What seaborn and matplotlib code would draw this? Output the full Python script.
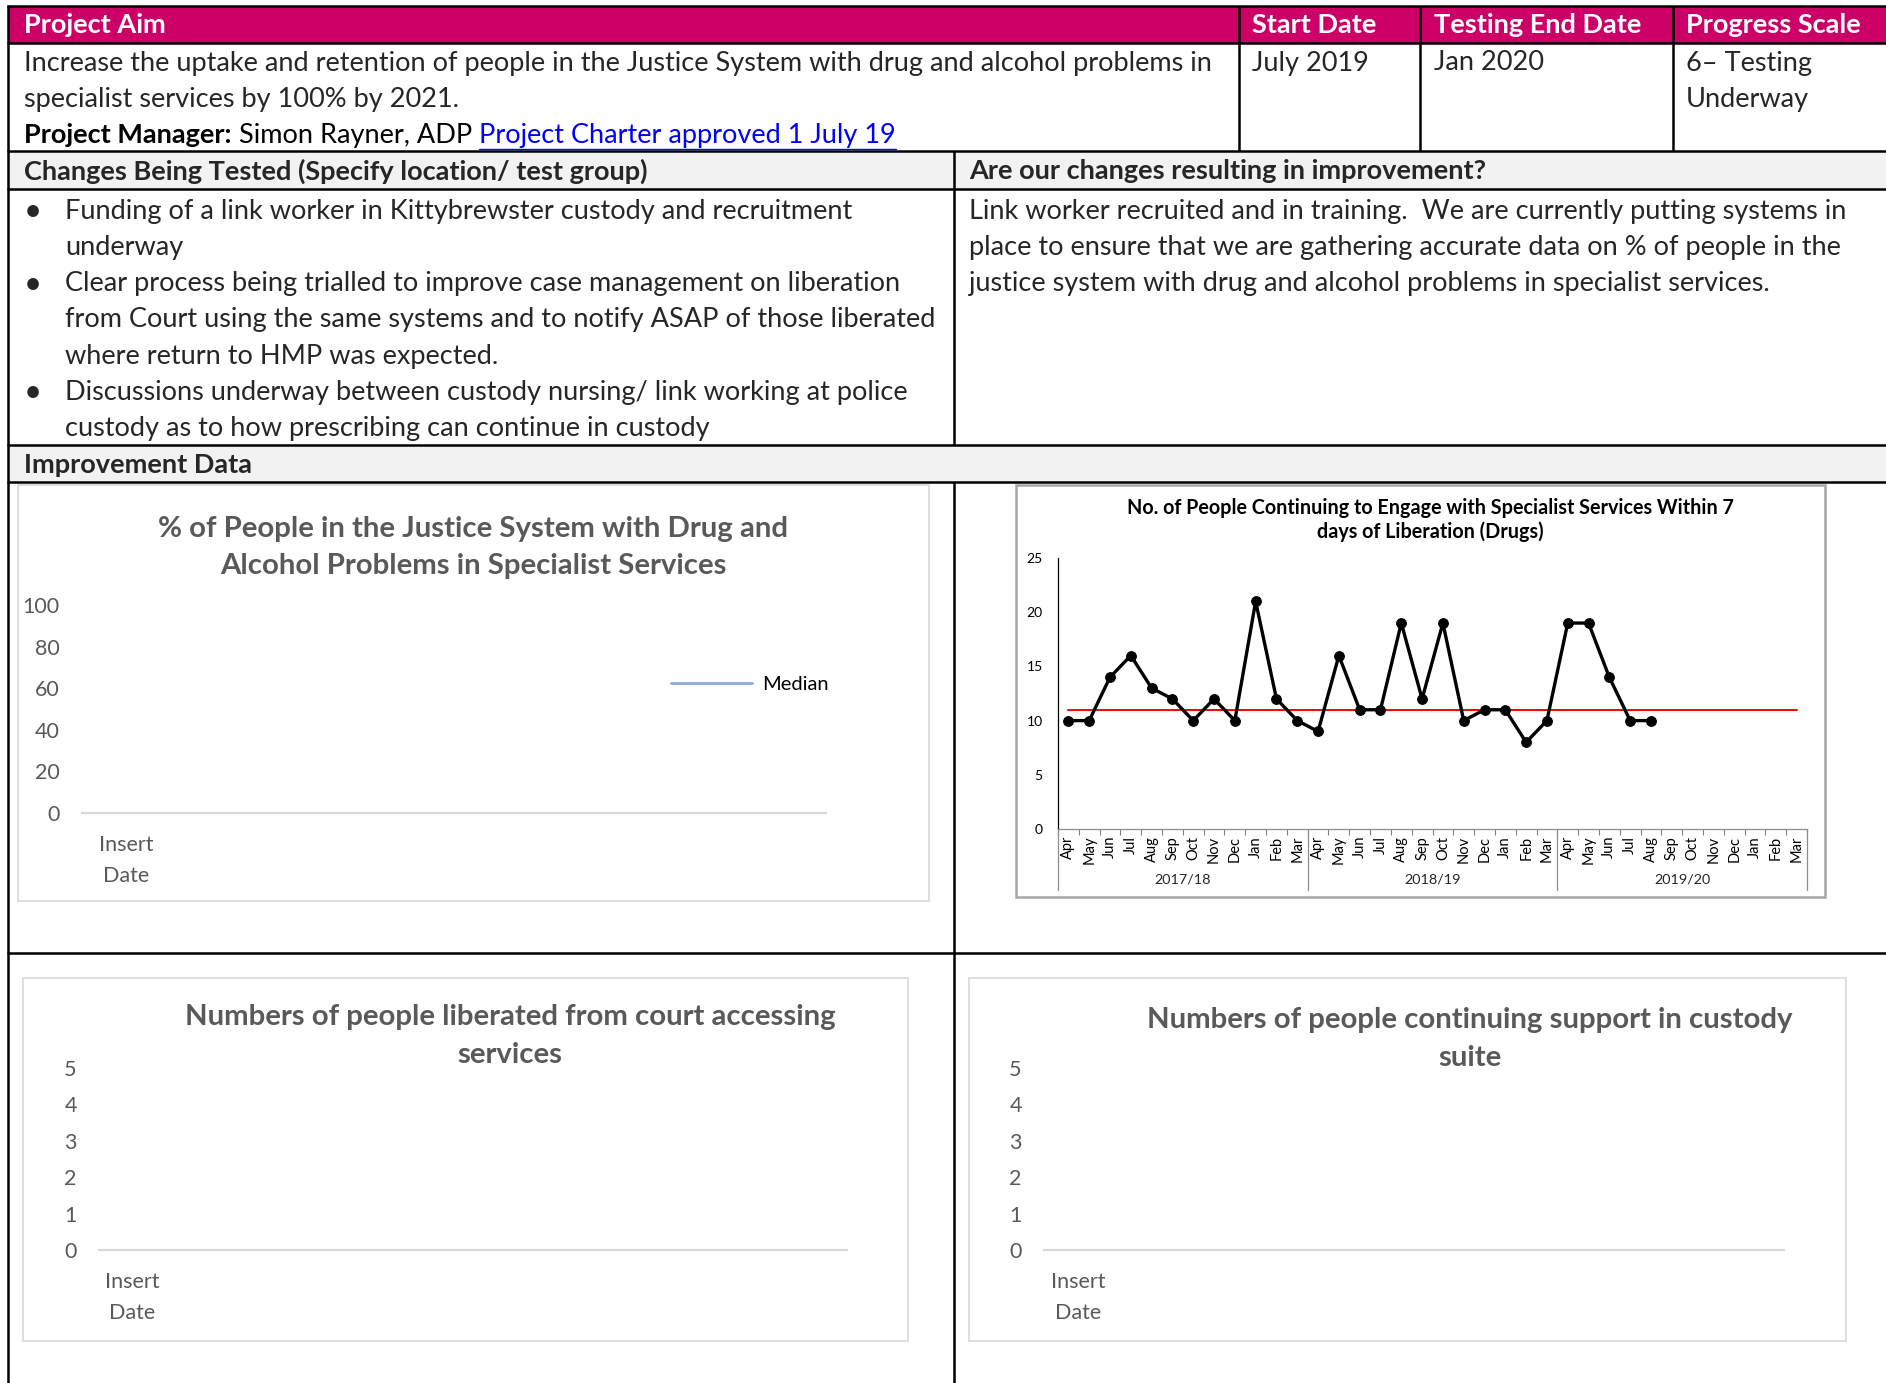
import numpy as np
import pandas as pd
import seaborn as sns
import matplotlib.pyplot as plt
import matplotlib.transforms as mtransforms
from matplotlib.patches import Rectangle

W, H = 1886, 1383

# ---- table text ----
header_labels = ['Project Aim', 'Start Date', 'Testing End Date', 'Progress Scale']
aim_lines = ['Increase the uptake and retention of people in the Justice System with drug and alcohol problems in',
             'specialist services by 100% by 2021.']
start_date = 'July 2019'
end_date = 'Jan 2020'
progress_lines = ['6\u2013 Testing', 'Underway']
manager_label = 'Project Manager:'
manager_name = ' Simon Rayner, ADP '
charter_link = 'Project Charter approved 1 July 19'
changes_header = 'Changes Being Tested (Specify location/ test group)'
changes_bullets = [
    ['Funding of a link worker in Kittybrewster custody and recruitment', 'underway'],
    ['Clear process being trialled to improve case management on liberation',
     'from Court using the same systems and to notify ASAP of those liberated',
     'where return to HMP was expected.'],
    ['Discussions underway between custody nursing/ link working at police',
     'custody as to how prescribing can continue in custody'],
]
improve_header = 'Are our changes resulting in improvement?'
improve_lines = ['Link worker recruited and in training.  We are currently putting systems in',
                 'place to ensure that we are gathering accurate data on % of people in the',
                 'justice system with drug and alcohol problems in specialist services.']
data_header = 'Improvement Data'

# ---- chart data ----
months = ['Apr', 'May', 'Jun', 'Jul', 'Aug', 'Sep', 'Oct', 'Nov', 'Dec', 'Jan', 'Feb', 'Mar']
years = ['2017/18', '2018/19', '2019/20']
engage_values = [10, 10, 14, 16, 13, 12, 10, 12, 10, 21, 12, 10,
                 9, 16, 11, 11, 19, 12, 19, 10, 11, 11, 8, 10,
                 19, 19, 14, 10, 10]
median_value = 11
engage_title = 'No. of People Continuing to Engage with Specialist Services Within 7\ndays of Liberation (Drugs)'

empty_categories = ['Insert\nDate']
empty_values = [np.nan]
pct_title = '% of People in the Justice System with Drug and\nAlcohol Problems in Specialist Services'
pct_ticks = [0, 20, 40, 60, 80, 100]
court_title = 'Numbers of people liberated from court accessing\nservices'
custody_title = 'Numbers of people continuing support in custody\nsuite'
count_ticks = [0, 1, 2, 3, 4, 5]

sns.set_theme(style='white')
plt.rcParams['font.family'] = ['Lato', 'DejaVu Sans']

fig = plt.figure(figsize=(W / 100, H / 100), dpi=100)
fig.patch.set_facecolor('white')

page = fig.add_axes([0, 0, 1, 1])
page.set_xlim(0, W)
page.set_ylim(H, 0)
page.axis('off')
page.set_zorder(0)

PINK = '#CC0066'
GREY_ROW = '#F2F2F2'
BODY = 19.5
LINE = 36.3

# row fills
page.add_patch(Rectangle((8, 6), W - 8, 37, fc=PINK, ec='none'))
page.add_patch(Rectangle((8, 151), W - 8, 38, fc=GREY_ROW, ec='none'))
page.add_patch(Rectangle((8, 445), W - 8, 37, fc=GREY_ROW, ec='none'))

# table rules
lk = dict(color='black', lw=1.8, solid_capstyle='butt')
for y in [6, 43, 151, 189, 445, 482, 953]:
    page.plot([7, W], [y, y], **lk)
page.plot([8, 8], [5, H], **lk)
for x in [1239, 1420, 1673]:
    page.plot([x, x], [6, 151], **lk)
page.plot([954, 954], [151, 445], **lk)
page.plot([954, 954], [482, H], **lk)

# header row
for lbl, x in zip(header_labels, [24, 1252, 1434, 1686]):
    page.text(x, 25, lbl, color='white', fontsize=BODY, fontweight='bold', va='center')

for i, line in enumerate(aim_lines):
    page.text(24, 63 + LINE * i, line, fontsize=BODY, va='center')
page.text(1252, 63, start_date, fontsize=BODY, va='center')
page.text(1434, 63, end_date, fontsize=BODY, va='center')
for i, line in enumerate(progress_lines):
    page.text(1686, 63 + LINE * i, line, fontsize=BODY, va='center')

# project manager line with mixed styles
renderer = fig.canvas.get_renderer()
x_run = 24
y_run = 135
for txt, kw in [(manager_label, dict(fontweight='bold', color='black')),
                (manager_name, dict(color='black')),
                (charter_link, dict(color='#0000FF'))]:
    t = page.text(x_run, y_run, txt, fontsize=BODY, va='center', **kw)
    bb = t.get_window_extent(renderer)
    if txt == charter_link:
        page.plot([x_run, bb.x1], [y_run + 14, y_run + 14], color='#0000FF', lw=1)
    x_run = bb.x1

page.text(24, 171, changes_header, fontsize=BODY, fontweight='bold', va='center')
page.text(969, 171, improve_header, fontsize=BODY, fontweight='bold', va='center')

y_line = 211
for bullet in changes_bullets:
    page.text(24, y_line, '\u2022', fontsize=BODY + 3, va='center')
    for line in bullet:
        page.text(65, y_line, line, fontsize=BODY, va='center')
        y_line += LINE
for i, line in enumerate(improve_lines):
    page.text(969, 211 + LINE * i, line, fontsize=BODY, va='center')

page.text(24, 465, data_header, fontsize=BODY, fontweight='bold', va='center')

# chart frames
page.add_patch(Rectangle((18, 485), 911, 416, fc='white', ec='#D9D9D9', lw=1.2))
page.add_patch(Rectangle((1016, 485), 809, 412, fc='white', ec='#A6A6A6', lw=1.8))
page.add_patch(Rectangle((23, 978), 885, 363, fc='white', ec='#D9D9D9', lw=1.2))
page.add_patch(Rectangle((969, 978), 877, 363, fc='white', ec='#D9D9D9', lw=1.2))

TITLE_GREY = '#595959'
page.text(473, 547.5, pct_title, fontsize=21.2, fontweight='bold', color=TITLE_GREY,
          ha='center', va='center', linespacing=1.55)
page.text(510, 1036, court_title, fontsize=21.2, fontweight='bold', color=TITLE_GREY,
          ha='center', va='center', linespacing=1.55)
page.text(1470, 1039, custody_title, fontsize=21.2, fontweight='bold', color=TITLE_GREY,
          ha='center', va='center', linespacing=1.55)
page.text(1430, 520, engage_title, fontsize=14.2, fontweight='bold', color='black',
          ha='center', va='center', linespacing=1.22)


def px_axes(left, top, right, bottom):
    ax = fig.add_axes([left / W, 1 - bottom / H, (right - left) / W, (bottom - top) / H])
    ax.set_facecolor('none')
    ax.set_zorder(2)
    return ax


def empty_chart(rect, ticks, label_frac, legend=False):
    ax = px_axes(*rect)
    ax.plot([label_frac], empty_values, color='#8FAADC', lw=2, label='Median')
    ax.set_xlim(0, 1)
    ax.set_ylim(0, ticks[-1])
    ax.set_yticks(ticks)
    ax.set_xticks([label_frac])
    ax.set_xticklabels(empty_categories)
    for s in ['top', 'right', 'left']:
        ax.spines[s].set_visible(False)
    ax.spines['bottom'].set_color('#D9D9D9')
    ax.spines['bottom'].set_linewidth(1.6)
    ax.tick_params(axis='y', length=0, pad=16, labelsize=15.5, labelcolor=TITLE_GREY)
    ax.tick_params(axis='x', length=0, pad=16, labelsize=15.5, labelcolor=TITLE_GREY)
    for lbl in ax.get_xticklabels():
        lbl.set_linespacing(1.7)
    ax.grid(False)
    if legend:
        ax.legend(loc='center left', bbox_to_anchor=(671 / W, 1 - 684 / H),
                  bbox_transform=fig.transFigure, frameon=False, fontsize=14.5,
                  handlelength=4.0, handletextpad=0.5, borderpad=0, borderaxespad=0,
                  labelcolor='black')
    return ax


empty_chart((82, 605, 826, 813), pct_ticks, 0.059, legend=True)
empty_chart((99, 1068, 847, 1250), count_ticks, 0.044)
empty_chart((1044, 1068, 1784, 1250), count_ticks, 0.046)

# ---- engagement run chart ----
ax2 = px_axes(1058, 558, 1807, 829)
n_slots = len(months) * len(years)
month_labels = months * len(years)
engage_df = pd.DataFrame({'pos': np.arange(len(engage_values)), 'value': engage_values})
median_df = pd.DataFrame({'pos': np.arange(n_slots), 'median': [median_value] * n_slots})
sns.lineplot(data=median_df, x='pos', y='median', ax=ax2, color='red', lw=1.4, zorder=1)
sns.lineplot(data=engage_df, x='pos', y='value', ax=ax2, color='black', lw=2.4,
             marker='o', markersize=7, markeredgecolor='black', zorder=2)
ax2.set_xlim(-0.5, n_slots - 0.5)
ax2.set_ylim(0, 25)
ax2.set_yticks(range(0, 26, 5))
ax2.set_xticks(range(n_slots))
ax2.set_xticklabels(month_labels, rotation=90)
ax2.set_xticks(np.arange(-0.5, n_slots, 1), minor=True)
ax2.set_xlabel('')
ax2.set_ylabel('')
ax2.tick_params(axis='x', which='major', length=0, pad=5, labelsize=10.5, labelcolor='black')
ax2.tick_params(axis='x', which='minor', bottom=True, length=4, width=0.8, color='#808080', direction='out')
ax2.tick_params(axis='y', length=0, pad=11, labelsize=10, labelcolor='black')
for s in ['top', 'right']:
    ax2.spines[s].set_visible(False)
ax2.spines['left'].set_color('black')
ax2.spines['left'].set_linewidth(0.9)
ax2.spines['bottom'].set_color('#8C8C8C')
ax2.spines['bottom'].set_linewidth(0.9)
ax2.grid(False)

trans = mtransforms.blended_transform_factory(ax2.transData, ax2.transAxes)
for i, yr in enumerate(years):
    ax2.text(i * len(months) + (len(months) - 1) / 2, -0.188, yr, transform=trans,
             ha='center', va='center', fontsize=10.4)
for b in np.arange(-0.5, n_slots, len(months)):
    ax2.plot([b, b], [0, -0.225], transform=trans, color='#8C8C8C', lw=0.9, clip_on=False)

fig.savefig('out.png', dpi=100, facecolor='white')
